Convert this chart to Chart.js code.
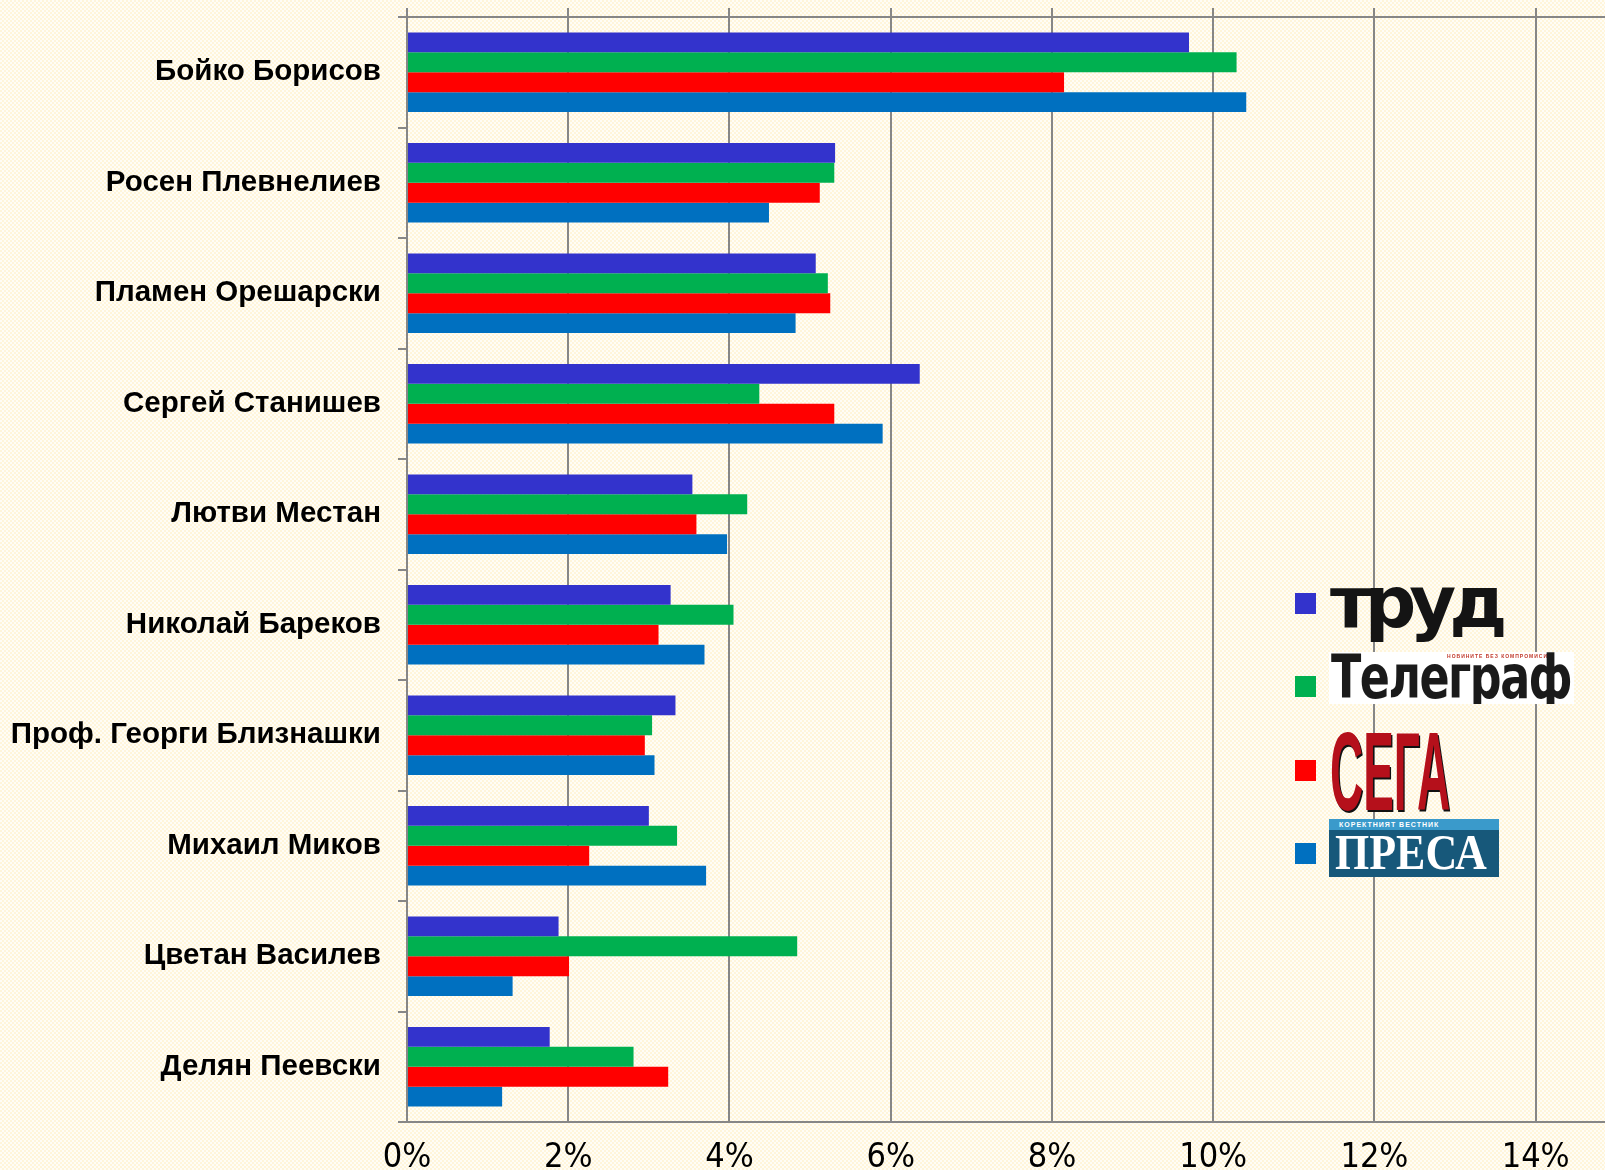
<!DOCTYPE html>
<html>
<head>
<meta charset="utf-8">
<script src="https://cdn.jsdelivr.net/npm/chart.js@4/dist/chart.umd.min.js"></script>
<style>
  html, body { margin: 0; padding: 0; }
  body {
    width: 1605px; height: 1170px; overflow: hidden; position: relative;
    background-color: #fffaea;
    background-image: conic-gradient(#fff5da 25%, #fffdf6 0 50%, #fff5da 0 75%, #fffdf6 0);
    background-size: 4px 4px;
  }
  #wrap { position: absolute; left: 0; top: 0; width: 1605px; height: 1170px; }
  .sq { position: absolute; left: 1295px; width: 21px; height: 21px; }
  .logo { position: absolute; white-space: nowrap; }
  #trud { left: 1330px; top: 560px; font: 900 72px "DejaVu Sans", sans-serif; color: #141414; letter-spacing: -7px; }
  #tel { left: 1329px; top: 652px; width: 245px; height: 52px; background: #fff; overflow: hidden; }
  #tel .t { position: absolute; left: 2px; top: -10px; font: bold 60px "DejaVu Sans", sans-serif; color: #1a1a1a;
            transform: scaleX(0.74); transform-origin: left top; letter-spacing: -2px; }
  #tel .s { position: absolute; right: 26px; top: 1px; font: bold 5px "Liberation Sans", sans-serif; color: #c0392b; letter-spacing: 1px; }
  #sega { left: 1330px; top: 716px; font: bold 112px "Liberation Sans Narrow", "Liberation Sans", sans-serif; color: #b5101b;
          text-shadow: 3px 2px 0 #111; transform: scaleX(0.41); transform-origin: left top; line-height: 1; }
  #presa { left: 1329px; top: 819px; width: 170px; height: 58px; background: #17587a; overflow: hidden; }
  #presa .top { position: absolute; left: 0; top: 0; width: 170px; height: 11px; background: #3a9acb;
                font: bold 7px "Liberation Sans", sans-serif; color: #fff; letter-spacing: 1px; padding-left: 10px; line-height: 11px; box-sizing: border-box; }
  #presa .t { position: absolute; left: 6px; top: 8px; font: bold 50px "Liberation Serif", serif; color: #fff;
              transform: scaleX(0.88); transform-origin: left top; line-height: 1; }
</style>
</head>
<body>
<div id="wrap"><canvas id="chart" width="1605" height="1170"></canvas></div>

<div class="sq" style="top:593px;background:#3333cc"></div>
<div class="sq" style="top:676px;background:#00b050"></div>
<div class="sq" style="top:760px;background:#ff0000"></div>
<div class="sq" style="top:843px;background:#0070c0"></div>

<div class="logo" id="trud">труд</div>
<div class="logo" id="tel"><span class="s">НОВИНИТЕ БЕЗ КОМПРОМИСИ</span><span class="t">Телеграф</span></div>
<div class="logo" id="sega">СЕГА</div>
<div class="logo" id="presa"><div class="top">КОРЕКТНИЯТ ВЕСТНИК</div><div class="t">ПРЕСА</div></div>

<script>
const candidates = [
    "Бойко Борисов",
    "Росен Плевнелиев",
    "Пламен Орешарски",
    "Сергей Станишев",
    "Лютви Местан",
    "Николай Бареков",
    "Проф. Георги Близнашки",
    "Михаил Миков",
    "Цветан Василев",
    "Делян Пеевски"
];

// проценти по вестници
const trud     = [9.70, 5.31, 5.07, 6.36, 3.54, 3.27, 3.33, 3.00, 1.88, 1.77];
const telegraf = [10.29, 5.30, 5.22, 4.37, 4.22, 4.05, 3.04, 3.35, 4.84, 2.81];
const sega     = [8.15, 5.12, 5.25, 5.30, 3.59, 3.12, 2.95, 2.26, 2.01, 3.24];
const presa    = [10.41, 4.49, 4.82, 5.90, 3.97, 3.69, 3.07, 3.71, 1.31, 1.18];

const xTicks = [0, 2, 4, 6, 8, 10, 12, 14];

const gridColor = "#878787";

function keepTicks(axis) {
    axis.ticks = axis.ticks.filter(t => xTicks.includes(t.value));
}

function bar(label, data, color) {
    return {
        label: label,
        data: data,
        backgroundColor: color,
        borderWidth: 0,
        xAxisID: "x",
        categoryPercentage: 0.72,
        barPercentage: 1.0
    };
}

new Chart(document.getElementById("chart").getContext("2d"), {
    type: "bar",
    data: {
        labels: candidates,
        datasets: [
            bar("Труд", trud, "#3333cc"),
            bar("Телеграф", telegraf, "#00b050"),
            bar("Сега", sega, "#ff0000"),
            bar("Преса", presa, "#0070c0")
        ]
    },
    options: {
        indexAxis: "y",
        responsive: false,
        animation: false,
        layout: { padding: 0 },
        plugins: {
            legend: { display: false },
            tooltip: { enabled: false }
        },
        scales: {
            x: {
                position: "bottom",
                min: 0,
                max: 14.86,
                afterBuildTicks: keepTicks,
                afterFit: s => { s.height = 48; s.paddingLeft = 0; s.paddingRight = 0; },
                ticks: {
                    stepSize: 2,
                    includeBounds: false,
                    autoSkip: false,
                    maxRotation: 0,
                    padding: 16,
                    color: "#000",
                    font: { family: "'Liberation Sans Narrow', 'DejaVu Sans Condensed', sans-serif", size: 34 },
                    callback: v => v + "%"
                },
                grid: { color: gridColor, lineWidth: 2, drawTicks: false },
                border: { display: true, color: gridColor, width: 2 }
            },
            x2: {
                position: "top",
                min: 0,
                max: 14.86,
                afterBuildTicks: keepTicks,
                afterFit: s => { s.height = 17; },
                ticks: { display: false, stepSize: 2, includeBounds: false },
                grid: { color: gridColor, lineWidth: 2, drawOnChartArea: false, drawTicks: true, tickLength: 9 },
                border: { display: true, color: gridColor, width: 2 }
            },
            y: {
                afterFit: s => { s.width = 407; s.paddingTop = 0; s.paddingBottom = 0; },
                ticks: {
                    padding: 17,
                    autoSkip: false,
                    color: "#000",
                    font: { family: "'Liberation Sans', Arial, sans-serif", size: 29.5, weight: "bold" }
                },
                grid: { offset: true, color: gridColor, lineWidth: 2, drawOnChartArea: false, drawTicks: true, tickLength: 9 },
                border: { display: true, color: gridColor, width: 2 }
            }
        }
    }
});
</script>
</body>
</html>
